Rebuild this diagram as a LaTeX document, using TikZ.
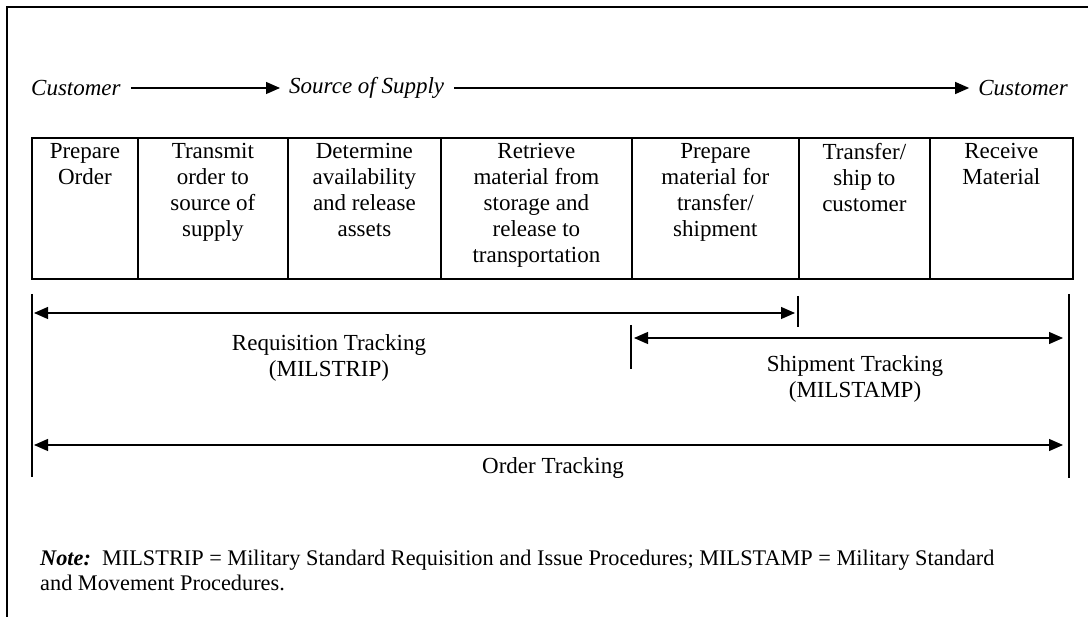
\documentclass[tikz,border=0pt]{standalone}
\usepackage{fontspec}
\setmainfont{Liberation Serif}
\usetikzlibrary{arrows.meta}
\begin{document}
\begin{tikzpicture}[x=1pt,y=-1pt,
  txt/.style={font=\fontsize{23}{26}\selectfont, inner sep=0pt},
  itxt/.style={font=\fontsize{23}{26}\selectfont\itshape, inner xsep=0pt, inner ysep=0pt},
  cellbox/.style={draw, line width=1.8pt, anchor=north west, inner sep=0pt, minimum height=141pt},
  celltxt/.style={font=\fontsize{23}{26}\selectfont, align=center, anchor=north, inner sep=0pt},
  conn/.style={line width=1.2pt, -{Triangle[length=14pt,width=12pt]}},
  dconn/.style={line width=1.2pt, {Triangle[length=14pt,width=12pt]}-{Triangle[length=14pt,width=12pt]}},
  tick/.style={line width=1.3pt},
  frame/.style={line width=2.4pt}
]
\useasboundingbox (0,0) rectangle (1088,617);
% frame
\coordinate (f0) at (7,7);
\coordinate (f1) at (1088,7);
\coordinate (f2) at (7,617);
\draw[frame] (f1) -- (f0) -- (f2);

% top flow
\node[itxt, anchor=west] (cA) at (31,88) {Customer};
\node[itxt, anchor=west] (sos) at (289,88) {Source of Supply};
\node[itxt, anchor=east] (cB) at (1068,88) {Customer};
\draw[conn] ([xshift=10pt]cA.east) -- ([xshift=-9pt]sos.west);
\draw[conn] ([xshift=10pt]sos.east) -- ([xshift=-9pt]cB.west);

% table cells
\node[cellbox, minimum width=106pt] (b1) at (31,137) {};
\node[cellbox, minimum width=150pt] (b2) at (137,137) {};
\node[cellbox, minimum width=153pt] (b3) at (287,137) {};
\node[cellbox, minimum width=191pt] (b4) at (440,137) {};
\node[cellbox, minimum width=167pt] (b5) at (631,137) {};
\node[cellbox, minimum width=131pt] (b6) at (798,137) {};
\node[cellbox, minimum width=143pt] (b7) at (929,137) {};
\node[celltxt] (t1) at ([yshift=-6pt]b1.north) {Prepare\\Order};
\node[celltxt] (t2) at ([yshift=-6pt]b2.north) {Transmit\\order to\\source of\\supply};
\node[celltxt] (t3) at ([yshift=-6pt]b3.north) {Determine\\availability\\and release\\assets};
\node[celltxt] (t4) at ([yshift=-6pt]b4.north) {Retrieve\\material from\\storage and\\release to\\transportation};
\node[celltxt] (t5) at ([yshift=-6pt]b5.north) {Prepare\\material for\\transfer/\\shipment};
\node[celltxt] (t6) at ([yshift=-6pt]b6.north) {Transfer/\\ship to\\customer};
\node[celltxt] (t7) at ([yshift=-6pt]b7.north) {Receive\\Material};

% verticals
\coordinate (lT) at (32,294);
\coordinate (lB) at (32,477);
\coordinate (rT) at (1069,294);
\coordinate (rB) at (1069,478);
\draw[tick] (lT) -- (lB);
\draw[tick] (rT) -- (rB);
\coordinate (reqT) at (798,296);
\coordinate (reqB) at (798,327);
\draw[tick] (reqT) -- (reqB);
\coordinate (shT) at (631,325);
\coordinate (shB) at (631,369);
\draw[tick] (shT) -- (shB);

% tracking arrows
\coordinate (rqL) at (34,313);
\coordinate (rqR) at (795,313);
\draw[dconn] (rqL) -- (rqR);
\node[txt, align=center] (rqT) at (329,358) {Requisition Tracking\\(MILSTRIP)};

\coordinate (smL) at (634,338);
\coordinate (smR) at (1063,338);
\draw[dconn] (smL) -- (smR);
\node[txt, align=center] (smT) at (855,379) {Shipment Tracking\\(MILSTAMP)};

\coordinate (orL) at (34,445);
\coordinate (orR) at (1063,445);
\draw[dconn] (orL) -- (orR);
\node[txt] (orT) at (553,468) {Order Tracking};

% note
\node[font=\fontsize{22.3}{25}\selectfont, align=left, anchor=west, inner sep=0pt] (note) at (40,570)
 {\textbf{\textit{Note:}}\ \ MILSTRIP = Military Standard Requisition and Issue Procedures; MILSTAMP = Military Standard\\and Movement Procedures.};
\end{tikzpicture}
\end{document}
